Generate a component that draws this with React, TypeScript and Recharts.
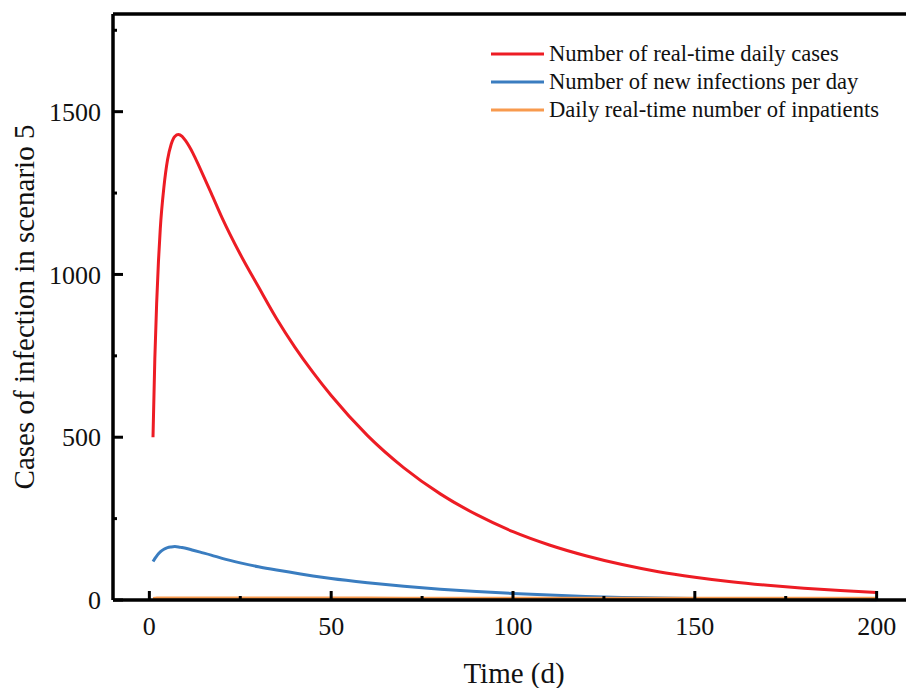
import React from 'react';
import { LineChart, Line, XAxis, YAxis, ReferenceLine, Legend } from 'recharts';

const days = [1, 1.5, 2, 2.5, 3, 4, 5, 6, 7, 8, 9, 10, 12, 14, 17, 20, 25, 30, 35, 40, 45, 50, 60, 70, 80, 90, 100, 110, 120, 130, 140, 150, 160, 170, 180, 190, 200];
const realTimeCases = [500, 740, 910, 1040, 1140, 1268, 1352, 1400, 1424, 1430, 1424, 1410, 1372, 1324, 1250, 1174, 1062, 962, 864, 777, 699, 628, 505, 406, 326, 262, 210, 169, 136, 109, 87, 70, 56, 45, 36, 29, 23];
const newInfections = [118, 127, 135, 142, 148, 156, 161, 163, 164, 163, 161, 159, 153, 147, 138, 128, 114, 102, 92, 83, 74, 66, 53, 42, 33, 26, 20, 15, 11, 8, 6, 4.5, 3.5, 2.5, 2, 1.5, 1];
const inpatients = [5, 5.5, 6, 6, 6, 6, 6, 6, 6, 6, 6, 6, 6, 6, 6, 6, 6, 6, 6, 6, 6, 6, 6, 5.5, 5.5, 5.5, 5.5, 5.5, 5.5, 5.5, 5.5, 5.5, 5.5, 5.5, 5.5, 5.5, 5.5];

const xTicks = [0, 25, 50, 75, 100, 125, 150, 175, 200];
const yTicks = [0, 250, 500, 750, 1000, 1250, 1500, 1750];

const SERIES = [
    { key: 'cases', name: 'Number of real-time daily cases', color: '#ed1c24' },
    { key: 'infections', name: 'Number of new infections per day', color: '#3a7dc0' },
    { key: 'inpatients', name: 'Daily real-time number of inpatients', color: '#f89a4e' },
];

const FONT = '"Liberation Serif", "Times New Roman", serif';

const data = days.map((d, i) => ({
    day: d,
    cases: realTimeCases[i],
    infections: newInfections[i],
    inpatients: inpatients[i],
}));

const XTick = (props: any) => {
    const { x, y, payload } = props;
    const major = payload.value % 50 === 0;
    return (
        <g>
            <line x1={x} x2={x} y1={y} y2={y - (major ? 9 : 4)} stroke="#000" strokeWidth={3} />
            {major && (
                <text x={x} y={y + 35} textAnchor="middle" fontSize={26} fontFamily={FONT} fill="#111">
                    {payload.value}
                </text>
            )}
        </g>
    );
};

const YTick = (props: any) => {
    const { x, y, payload } = props;
    const major = payload.value % 500 === 0;
    return (
        <g>
            <line x1={x} x2={x + (major ? 10 : 4)} y1={y} y2={y} stroke="#000" strokeWidth={3} />
            {major && (
                <text x={x - 12} y={y} dy="0.35em" textAnchor="end" fontSize={26} fontFamily={FONT} fill="#111">
                    {payload.value}
                </text>
            )}
        </g>
    );
};

const LegendBox = () => (
    <svg width={420} height={90}>
        {SERIES.map((s, i) => (
            <g key={s.key}>
                <line x1={3} x2={56} y1={14 + i * 28} y2={14 + i * 28} stroke={s.color} strokeWidth={3} />
                <text x={61} y={14 + i * 28} dy="0.33em" fontSize={22.6} fontFamily={FONT} fill="#111">
                    {s.name}
                </text>
            </g>
        ))}
    </svg>
);

export default function App() {
    return (
        <div style={{ position: 'absolute', left: 0, top: 0, width: 906, height: 688, overflow: 'hidden', background: '#fff' }}>
            <LineChart width={950} height={688} data={data} margin={{ top: 14, right: 37, bottom: 58, left: 53 }}>
                <XAxis
                    dataKey="day"
                    type="number"
                    domain={[-10, 210]}
                    ticks={xTicks}
                    interval={0}
                    tickSize={0}
                    tickMargin={0}
                    tickLine={false}
                    tick={<XTick />}
                    axisLine={{ stroke: '#000', strokeWidth: 3.5 }}
                    height={30}
                    label={() => (
                        <text x={514} y={683} textAnchor="middle" fontSize={29} fontFamily={FONT} fill="#111">
                            Time (d)
                        </text>
                    )}
                />
                <YAxis
                    type="number"
                    domain={[0, 1800]}
                    ticks={yTicks}
                    interval={0}
                    tickSize={0}
                    tickMargin={0}
                    tickLine={false}
                    tick={<YTick />}
                    axisLine={{ stroke: '#000', strokeWidth: 3.5 }}
                    width={60}
                    label={() => (
                        <text
                            x={34}
                            y={307}
                            transform="rotate(-90, 34, 307)"
                            textAnchor="middle"
                            fontSize={29}
                            fontFamily={FONT}
                            fill="#111"
                        >
                            Cases of infection in scenario 5
                        </text>
                    )}
                />
                <ReferenceLine y={1800} stroke="#000" strokeWidth={3.5} />
                <ReferenceLine x={210} stroke="#000" strokeWidth={3.5} />
                <Legend
                    layout="vertical"
                    align="center"
                    verticalAlign="middle"
                    wrapperStyle={{ top: 40, left: 488, width: 420 }}
                    content={() => <LegendBox />}
                />
                {SERIES.map((s) => (
                    <Line
                        key={s.key}
                        type="monotone"
                        dataKey={s.key}
                        name={s.name}
                        stroke={s.color}
                        strokeWidth={3}
                        dot={false}
                        isAnimationActive={false}
                    />
                ))}
            </LineChart>
        </div>
    );
}
